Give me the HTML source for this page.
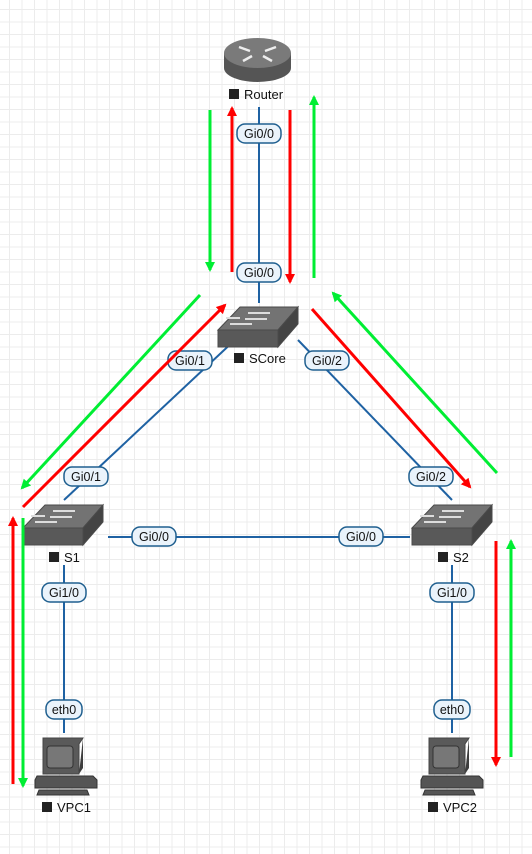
<!DOCTYPE html>
<html><head><style>
html,body{margin:0;padding:0;background:#fff;}
body{width:532px;height:854px;overflow:hidden;
background-image:linear-gradient(to right,#ececec 1px,transparent 1px),linear-gradient(to bottom,#ececec 1px,transparent 1px);
background-size:12.5px 12.5px;background-position:9px 9px;}
svg{position:absolute;left:0;top:0}
text{font-family:"Liberation Sans",sans-serif;}
</style></head><body>
<svg width="532" height="854" viewBox="0 0 532 854">
<defs>
<marker id="ar" markerWidth="10" markerHeight="10" refX="8" refY="5" orient="auto" markerUnits="userSpaceOnUse"><path d="M0,0 L10,5 L0,10 z" fill="#ff0000"/></marker>
<marker id="ag" markerWidth="10" markerHeight="10" refX="8" refY="5" orient="auto" markerUnits="userSpaceOnUse"><path d="M0,0 L10,5 L0,10 z" fill="#00ee33"/></marker>
<g id="sw">
<path d="M0,23 L22,0 L80,0 L60,23 z" fill="#737373" stroke="#4a4a4a" stroke-width="1"/>
<rect x="0" y="23" width="60" height="17" fill="#595959" stroke="#4a4a4a"/>
<path d="M60,23 L80,0 L80,17 L60,40 z" fill="#444" stroke="#4a4a4a"/>
<path d="M30,6 h22 M27,12 h22 M12,17 h22 M22,11 h-14" stroke="#ddd" stroke-width="2"/>
</g>
<g id="pc">
<path d="M10,0 h40 l-4,6 v30 h-36 z" fill="#5a5a5a" stroke="#444"/>
<rect x="14" y="8" width="26" height="22" rx="3" fill="#777" stroke="#333"/>
<path d="M50,0 l0,30 l-4,6" fill="#3e3e3e"/>
<path d="M4,38 h56 l4,4 v8 h-62 v-8 z" fill="#555" stroke="#333"/>
<path d="M6,52 h48 l2,5 h-52 z" fill="#555" stroke="#333"/>
</g>
</defs>
<!-- links -->
<g stroke="#1f62a3" stroke-width="2" fill="none">
<line x1="259" y1="107" x2="259" y2="303"/>
<line x1="237" y1="338" x2="64" y2="500"/>
<line x1="298" y1="340" x2="452" y2="500"/>
<line x1="108" y1="537" x2="410" y2="537"/>
<line x1="64" y1="565" x2="64" y2="733"/>
<line x1="452" y1="565" x2="452" y2="733"/>
</g>
<!-- router -->
<g>
<path d="M224,53 v15 a33.5,14 0 0 0 67,0 v-15 z" fill="#555"/>
<ellipse cx="257.5" cy="53" rx="33.5" ry="15" fill="#7a7a7a"/>
<path d="M239,47 l11,4 M276,47 l-11,4 M243,61 l9,-5 M272,61 l-9,-5" stroke="#eee" stroke-width="2.5"/>
</g>
<use href="#sw" x="218" y="307"/>
<use href="#sw" x="23" y="505"/>
<use href="#sw" x="412" y="505"/>
<use href="#pc" x="33" y="738"/>
<use href="#pc" x="419" y="738"/>
<!-- node labels -->
<g font-size="13" fill="#111">
<rect x="229" y="89" width="10" height="10" fill="#222"/><text x="244" y="99">Router</text>
<rect x="234" y="353" width="10" height="10" fill="#222"/><text x="249" y="363">SCore</text>
<rect x="49" y="552" width="10" height="10" fill="#222"/><text x="64" y="562">S1</text>
<rect x="438" y="552" width="10" height="10" fill="#222"/><text x="453" y="562">S2</text>
<rect x="42" y="802" width="10" height="10" fill="#222"/><text x="57" y="812">VPC1</text>
<rect x="428" y="802" width="10" height="10" fill="#222"/><text x="443" y="812">VPC2</text>
</g>
<!-- port labels -->
<g font-size="12.5" fill="#111" text-anchor="middle">
<g><rect x="237" y="124" width="44" height="19" rx="8" fill="#eaf3fb" stroke="#1f5f8f" stroke-width="1.5"/><text x="259" y="138">Gi0/0</text></g>
<g><rect x="237" y="263" width="44" height="19" rx="8" fill="#eaf3fb" stroke="#1f5f8f" stroke-width="1.5"/><text x="259" y="277">Gi0/0</text></g>
<g><rect x="168" y="351" width="44" height="19" rx="8" fill="#eaf3fb" stroke="#1f5f8f" stroke-width="1.5"/><text x="190" y="365">Gi0/1</text></g>
<g><rect x="305" y="351" width="44" height="19" rx="8" fill="#eaf3fb" stroke="#1f5f8f" stroke-width="1.5"/><text x="327" y="365">Gi0/2</text></g>
<g><rect x="64" y="467" width="44" height="19" rx="8" fill="#eaf3fb" stroke="#1f5f8f" stroke-width="1.5"/><text x="86" y="481">Gi0/1</text></g>
<g><rect x="409" y="467" width="44" height="19" rx="8" fill="#eaf3fb" stroke="#1f5f8f" stroke-width="1.5"/><text x="431" y="481">Gi0/2</text></g>
<g><rect x="132" y="527" width="44" height="19" rx="8" fill="#eaf3fb" stroke="#1f5f8f" stroke-width="1.5"/><text x="154" y="541">Gi0/0</text></g>
<g><rect x="339" y="527" width="44" height="19" rx="8" fill="#eaf3fb" stroke="#1f5f8f" stroke-width="1.5"/><text x="361" y="541">Gi0/0</text></g>
<g><rect x="42" y="583" width="44" height="19" rx="8" fill="#eaf3fb" stroke="#1f5f8f" stroke-width="1.5"/><text x="64" y="597">Gi1/0</text></g>
<g><rect x="430" y="583" width="44" height="19" rx="8" fill="#eaf3fb" stroke="#1f5f8f" stroke-width="1.5"/><text x="452" y="597">Gi1/0</text></g>
<g><rect x="46" y="700" width="36" height="19" rx="8" fill="#eaf3fb" stroke="#1f5f8f" stroke-width="1.5"/><text x="64" y="714">eth0</text></g>
<g><rect x="434" y="700" width="36" height="19" rx="8" fill="#eaf3fb" stroke="#1f5f8f" stroke-width="1.5"/><text x="452" y="714">eth0</text></g>
</g>
<!-- arrows -->
<g stroke-width="3" fill="none">
<line x1="210" y1="110" x2="210" y2="270" stroke="#00ee33" marker-end="url(#ag)"/>
<line x1="232" y1="272" x2="232" y2="108" stroke="#ff0000" marker-end="url(#ar)"/>
<line x1="290" y1="110" x2="290" y2="282" stroke="#ff0000" marker-end="url(#ar)"/>
<line x1="314" y1="278" x2="314" y2="97" stroke="#00ee33" marker-end="url(#ag)"/>
<line x1="200" y1="295" x2="22" y2="488" stroke="#00ee33" marker-end="url(#ag)"/>
<line x1="23" y1="507" x2="225" y2="305" stroke="#ff0000" marker-end="url(#ar)"/>
<line x1="312" y1="309" x2="470" y2="487" stroke="#ff0000" marker-end="url(#ar)"/>
<line x1="497" y1="473" x2="333" y2="293" stroke="#00ee33" marker-end="url(#ag)"/>
<line x1="13" y1="784" x2="13" y2="518" stroke="#ff0000" marker-end="url(#ar)"/>
<line x1="23" y1="518" x2="23" y2="786" stroke="#00ee33" marker-end="url(#ag)"/>
<line x1="496" y1="541" x2="496" y2="765" stroke="#ff0000" marker-end="url(#ar)"/>
<line x1="511" y1="757" x2="511" y2="541" stroke="#00ee33" marker-end="url(#ag)"/>
</g>
</svg>
</body></html>
